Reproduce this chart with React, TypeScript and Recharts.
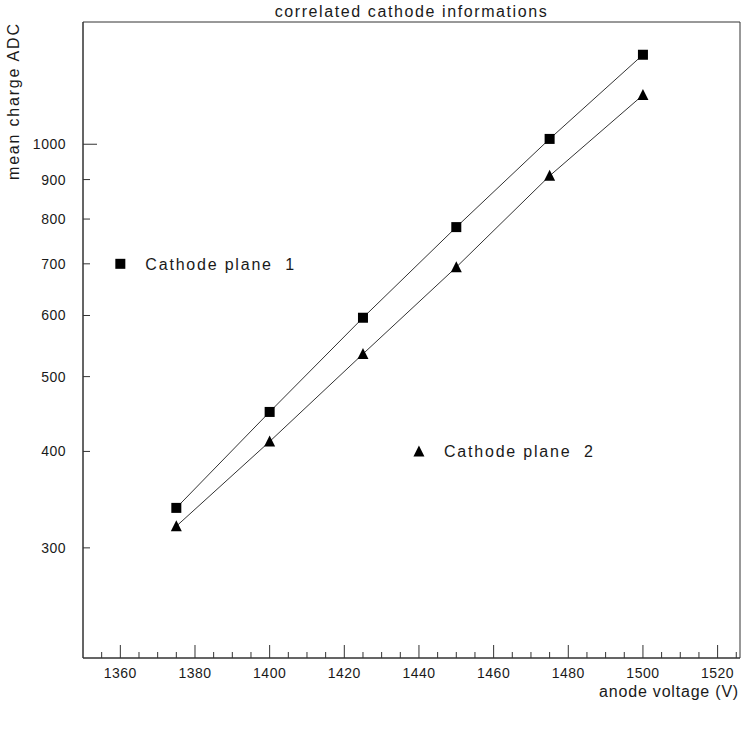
import { LineChart, Line, XAxis, YAxis, ReferenceArea, ReferenceDot } from 'recharts';

const voltages = [1375, 1400, 1425, 1450, 1475, 1500];
const plane1 = [338, 450, 596, 781, 1016, 1306];
const plane2 = [320, 412, 535, 693, 910, 1158];

const yTicks = [300, 400, 500, 600, 700, 800, 900, 1000];
const xTicks = [
  1355, 1360, 1365, 1370, 1375, 1380, 1385, 1390, 1395, 1400, 1405, 1410, 1415, 1420, 1425, 1430, 1435, 1440,
  1445, 1450, 1455, 1460, 1465, 1470, 1475, 1480, 1485, 1490, 1495, 1500, 1505, 1510, 1515, 1520, 1525,
];

const legend1 = { x: 1360, y: 700, label: 'Cathode plane  1' };
const legend2 = { x: 1440, y: 400, label: 'Cathode plane  2' };

const data = voltages.map((v, i) => ({ v, p1: plane1[i], p2: plane2[i] }));

const FONT = '"Liberation Sans", Arial, sans-serif';
const INK = '#1a1a1a';

function Square({ cx, cy }: any) {
  if (cx == null || cy == null) return null;
  return <rect x={cx - 5} y={cy - 5} width={10} height={10} fill="#000" />;
}

function Triangle({ cx, cy }: any) {
  if (cx == null || cy == null) return null;
  return <polygon points={`${cx - 5.5},${cy + 5} ${cx + 5.5},${cy + 5} ${cx},${cy - 6}`} fill="#000" />;
}

function XTick({ x, y, payload }: any) {
  const v = payload.value;
  const major = v % 20 === 0;
  return (
    <g>
      <line x1={x} x2={x} y1={y} y2={y - (major ? 13 : 6)} stroke="#333" />
      {major && (
        <text x={x} y={y + 20} textAnchor="middle" fontSize={14} fontFamily={FONT} fill={INK} letterSpacing={0.5}>
          {v}
        </text>
      )}
    </g>
  );
}

function YTick({ x, y, payload }: any) {
  const v = payload.value;
  return (
    <g>
      <line x1={x} x2={x + (v === 1000 ? 14 : 7)} y1={y} y2={y} stroke="#333" />
      <text x={x - 17} y={y + 5} textAnchor="end" fontSize={14} fontFamily={FONT} fill={INK} letterSpacing={0.5}>
        {v}
      </text>
    </g>
  );
}

function legendShape(kind: 'square' | 'triangle', label: string) {
  return ({ cx, cy }: any) => (
    <g>
      {kind === 'square' ? <Square cx={cx} cy={cy} /> : <Triangle cx={cx} cy={cy} />}
      <text
        x={cx + 25}
        y={cy + 6}
        fontSize={16}
        fontFamily={FONT}
        fill={INK}
        letterSpacing={1.8}
        style={{ whiteSpace: 'pre' }}
      >
        {label}
      </text>
    </g>
  );
}

export default function App() {
  return (
    <div style={{ position: 'absolute', left: 0, top: 0, width: 744, height: 738, background: '#fff' }}>
      <div
        style={{
          position: 'absolute', left: 83, width: 657, top: 3, textAlign: 'center',
          fontFamily: FONT, fontSize: 16, letterSpacing: 1.6, color: INK,
        }}
      >
        correlated cathode informations
      </div>
      <div
        style={{
          position: 'absolute', left: 5, top: 180, transformOrigin: '0 0', transform: 'rotate(-90deg)',
          fontFamily: FONT, fontSize: 16, letterSpacing: 1.8, color: INK, whiteSpace: 'nowrap',
        }}
      >
        mean charge ADC
      </div>
      <div
        style={{
          position: 'absolute', right: 5, top: 683, fontFamily: FONT, fontSize: 16, letterSpacing: 0.8, color: INK,
        }}
      >
        anode voltage (V)
      </div>
      <LineChart width={744} height={738} data={data} margin={{ top: 22, right: 4, left: 0, bottom: 0 }}>
        <XAxis
          dataKey="v"
          type="number"
          domain={[1350, 1526]}
          ticks={xTicks}
          interval={0}
          allowDataOverflow
          height={80}
          tickSize={0}
          tickMargin={0}
          tickLine={false}
          axisLine={{ stroke: '#333' }}
          tick={<XTick />}
        />
        <YAxis
          type="number"
          scale="log"
          domain={[216, 1440]}
          ticks={yTicks}
          interval={0}
          allowDataOverflow
          width={83}
          tickSize={0}
          tickMargin={0}
          tickLine={false}
          axisLine={{ stroke: '#333' }}
          tick={<YTick />}
        />
        <ReferenceArea x1={1350} x2={1526} y1={216} y2={1440} fill="none" stroke="#333" ifOverflow="visible" />
        <Line
          dataKey="p1"
          stroke="#333"
          strokeWidth={1}
          dot={(p: any) => <Square key={`s${p.index}`} cx={p.cx} cy={p.cy} />}
          activeDot={false}
          isAnimationActive={false}
        />
        <Line
          dataKey="p2"
          stroke="#333"
          strokeWidth={1}
          dot={(p: any) => <Triangle key={`t${p.index}`} cx={p.cx} cy={p.cy} />}
          activeDot={false}
          isAnimationActive={false}
        />
        <ReferenceDot x={legend1.x} y={legend1.y} r={5} shape={legendShape('square', legend1.label)} />
        <ReferenceDot x={legend2.x} y={legend2.y} r={5} shape={legendShape('triangle', legend2.label)} />
      </LineChart>
    </div>
  );
}
